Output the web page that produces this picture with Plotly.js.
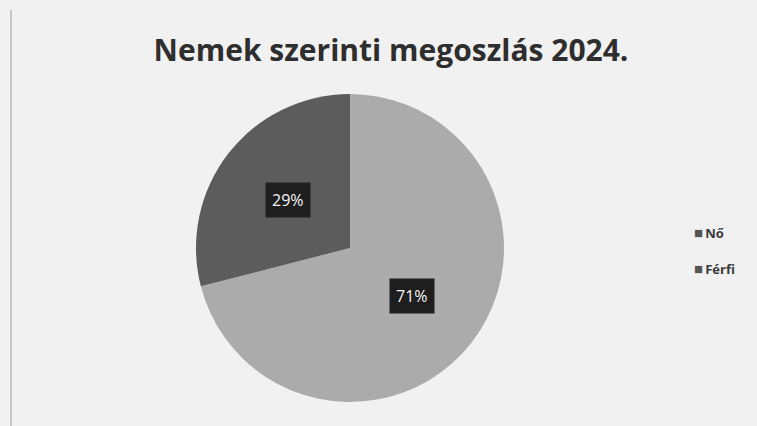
<!DOCTYPE html>
<html>
<head>
<meta charset="utf-8">
<script src="https://cdn.plot.ly/plotly-3.0.1.min.js"></script>
<style>html,body{margin:0;padding:0;background:#f1f1f1;}#chart{width:757px;height:426px;}</style>
</head>
<body>
<div id="chart"></div>
<script>
const categories = ["Nő", "Férfi"];
const values = [71, 29];
const colors = ["#ababab", "#5c5c5c"];
const legendColors = ["#555555", "#555555"];
const titleText = "Nemek szerinti megoszlás 2024.";

const W = 757, H = 426;
const cx = 350, cy = 248, R = 154;

const total = values.reduce((a, b) => a + b, 0);
const annotations = [];
let start = 0;
values.forEach((v, i) => {
  const frac = v / total;
  const mid = (start + frac / 2) * 2 * Math.PI; // clockwise from top
  start += frac;
  const px = cx + 0.51 * R * Math.sin(mid);
  const py = cy - 0.51 * R * Math.cos(mid);
  annotations.push({
    x: px / W, y: 1 - py / H, xref: "paper", yref: "paper",
    xanchor: "center", yanchor: "middle",
    text: Math.round(frac * 100) + "%", showarrow: false,
    font: {family: "Open Sans, sans-serif", size: 16, color: "#f4f4f4"},
    bgcolor: "#1e1e1e", borderpad: 6
  });
});
categories.forEach((c, i) => {
  annotations.push({
    x: 692 / W, y: 1 - (232 + i * 36) / H, xref: "paper", yref: "paper",
    xanchor: "left", yanchor: "middle", showarrow: false,
    text: "<span style='color:" + legendColors[i] + ";font-size:15px'>■</span>&#8201;<b>" + c + "</b>",
    font: {family: "Open Sans, sans-serif", size: 13, color: "#3a3a3a"}
  });
});

const data = [{
  type: "pie",
  labels: categories,
  values: values,
  sort: false,
  direction: "clockwise",
  rotation: 0,
  marker: {colors: colors, line: {width: 0}},
  textinfo: "none",
  hoverinfo: "label+percent",
  domain: {x: [(cx - R) / W, (cx + R) / W], y: [1 - (cy + R) / H, 1 - (cy - R) / H]}
}];

const layout = {
  width: W, height: H,
  margin: {l: 0, r: 0, t: 0, b: 0},
  paper_bgcolor: "#f1f1f1",
  showlegend: false,
  title: {
    text: "<b>" + titleText + "</b>",
    x: 391 / W, xanchor: "center", y: 1 - 50 / H, yanchor: "middle",
    font: {family: "Open Sans, sans-serif", size: 30, color: "#2e2e2e"}
  },
  annotations: annotations,
  shapes: [{
    type: "line", xref: "paper", yref: "paper",
    x0: 11 / W, x1: 11 / W, y0: 0, y1: 1 - 10 / H,
    line: {color: "#b8b8b8", width: 1.5}
  }]
};

Plotly.newPlot("chart", data, layout, {displayModeBar: false, staticPlot: true});
</script>
</body>
</html>
